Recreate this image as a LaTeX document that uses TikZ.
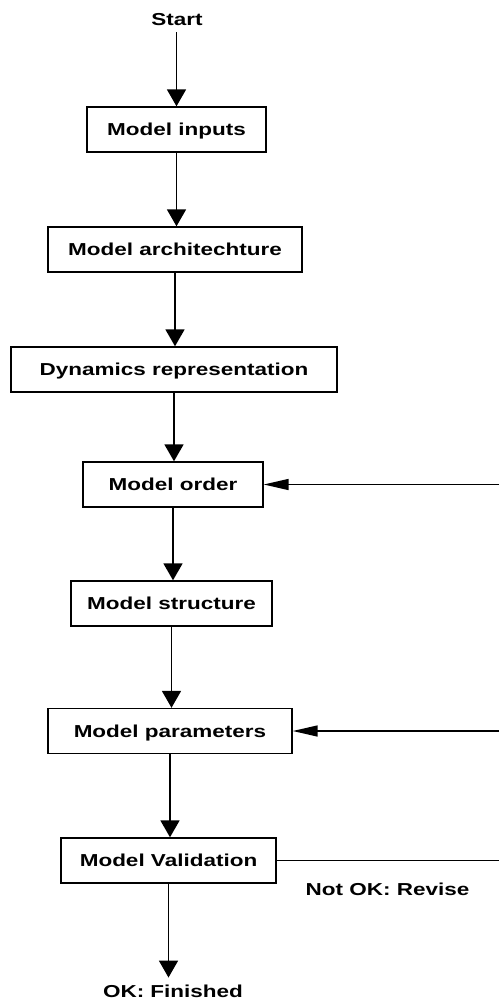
\documentclass[tikz,border=0pt]{standalone}
\usepackage{fontspec}
\setmainfont{Liberation Sans}[FakeStretch=1.3]
\usetikzlibrary{arrows.meta}

\begin{document}
\begin{tikzpicture}[x=1pt,y=-1pt,
  font=\fontsize{17.3}{19}\selectfont\bfseries,
  stepbox/.style={draw, line width=1.4pt, minimum height=45pt, inner sep=0pt, text depth=0pt},
  plain/.style={inner xsep=0pt, inner ysep=7pt, text depth=0pt},
  flow/.style={line width=1.8pt, -{Triangle[length=17pt,width=19pt]}},
  back/.style={line width=1.5pt, -{Triangle[length=25pt,width=11pt]}},
]
\useasboundingbox (0,0) rectangle (499,1004);

% process steps
\node[plain] (start) at (177,19) {Start};
\node[stepbox, minimum width=179pt] (b1) at (176.5,129.5) {Model inputs};
\node[stepbox, minimum width=254pt] (b2) at (175,249.5) {Model architechture};
\node[stepbox, minimum width=326pt] (b3) at (174,369.5) {Dynamics representation};
\node[stepbox, minimum width=180pt] (b4) at (173,484.5) {Model order};
\node[stepbox, minimum width=201pt] (b5) at (171.5,603.5) {Model structure};
\node[stepbox, minimum width=244pt] (b6) at (170,731) {Model parameters};
\node[stepbox, minimum width=215pt] (b7) at (168.5,860.5) {Model Validation};
\node[plain] (done) at (173,991) {OK: Finished};
\node[inner sep=0pt] (revise) at (387.5,889) {Not OK: Revise};

% feedback ends at the right margin
\coordinate (r4) at (499,484.5);
\coordinate (r6) at (499,731);
\coordinate (r7) at (499,860.5);

% main flow
\draw[flow] (start.south -| b1.north) -- (b1.north);
\draw[flow] (b1.south) -- (b1.south |- b2.north);
\draw[flow] (b2.south) -- (b2.south |- b3.north);
\draw[flow] (b3.south) -- (b3.south |- b4.north);
\draw[flow] (b4.south) -- (b4.south |- b5.north);
\draw[flow] (b5.south) -- (b5.south |- b6.north);
\draw[flow] (b6.south) -- (b6.south |- b7.north);
\draw[flow] (b7.south) -- (b7.south |- done.north);

% revision loops
\draw[back] (r4) -- (b4.east);
\draw[back] (r6) -- (b6.east);
\draw[line width=1.5pt] (b7.east) -- (r7);
\end{tikzpicture}
\end{document}
